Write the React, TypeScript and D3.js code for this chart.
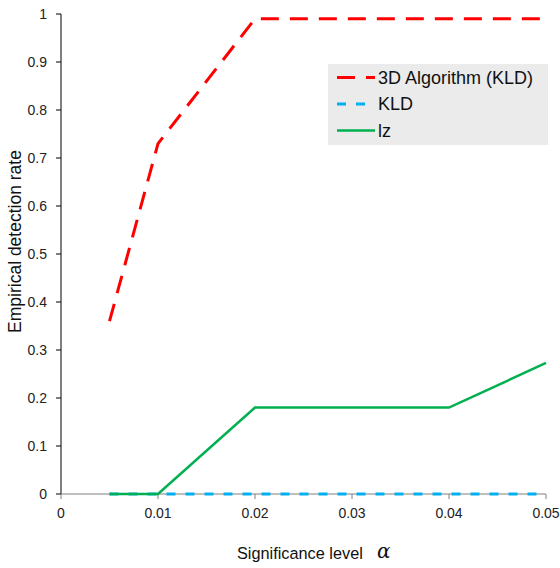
import React from "react";
import * as d3 from "d3";

const alphaLevels = [0.005, 0.01, 0.02, 0.03, 0.04, 0.05];
const algo3D = [0.36, 0.73, 0.99, 0.99, 0.99, 0.99];
const kld = [0, 0, 0, 0, 0, 0];
const lz = [0, 0, 0.18, 0.18, 0.18, 0.273];
const xTicks = [0, 0.01, 0.02, 0.03, 0.04, 0.05];
const xTickLabels = ["0", "0.01", "0.02", "0.03", "0.04", "0.05"];
const yTicks = [0, 0.1, 0.2, 0.3, 0.4, 0.5, 0.6, 0.7, 0.8, 0.9, 1];
const yTickLabels = ["0", "0.1", "0.2", "0.3", "0.4", "0.5", "0.6", "0.7", "0.8", "0.9", "1"];
const seriesNames = ["3D Algorithm (KLD)", "KLD", "lz"];

export default function App() {
  const W = 560, H = 568;
  const x = d3.scaleLinear().domain([0, 0.05]).range([61, 546]);
  const y = d3.scaleLinear().domain([0, 1]).range([494, 14]);
  const line = d3.line<number>().x((_, i) => x(alphaLevels[i])).y((v) => y(v));
  const font = "Arial, 'Liberation Sans', sans-serif";
  const series = [
    { name: seriesNames[0], data: algo3D, color: "#ff0000", dash: "18,11", width: 3 },
    { name: seriesNames[1], data: kld, color: "#00b0f0", dash: "9,10", width: 3 },
    { name: seriesNames[2], data: lz, color: "#00b050", dash: "", width: 2.5 },
  ];
  return (
    <svg width={W} height={H} style={{ position: "absolute", left: 0, top: 0 }} fontFamily={font}>
      <rect width={W} height={H} fill="#fff" />
      {/* y axis */}
      <line x1={x(0)} x2={x(0)} y1={y(1)} y2={y(0)} stroke="#000" strokeWidth={1} />
      {yTicks.map((t, i) => (
        <g key={i}>
          <line x1={x(0) - 5} x2={x(0)} y1={y(t)} y2={y(t)} stroke="#000" />
          <text x={47} y={y(t)} dy="0.35em" textAnchor="end" fontSize={14} fill="#222">{yTickLabels[i]}</text>
        </g>
      ))}
      {/* x axis */}
      <line x1={x(0)} x2={x(0.05)} y1={y(0)} y2={y(0)} stroke="#808080" strokeWidth={1.2} />
      {xTicks.map((t, i) => (
        <g key={i}>
          <line x1={x(t)} x2={x(t)} y1={y(0)} y2={y(0) + 5} stroke="#808080" />
          <text x={x(t)} y={518} textAnchor="middle" fontSize={14} fill="#222">{xTickLabels[i]}</text>
        </g>
      ))}
      {/* series */}
      {[series[1], series[2], series[0]].map((s) => (
        <path key={s.name} d={line(s.data) || ""} fill="none" stroke={s.color} strokeWidth={s.width} strokeDasharray={s.dash} />
      ))}
      {/* legend */}
      <rect x={328} y={64} width={220} height={81} fill="#ebebeb" />
      {series.map((s, i) => {
        const ly = 77.5 + i * 26.5;
        return (
          <g key={s.name}>
            <line x1={337} x2={375} y1={ly} y2={ly} stroke={s.color} strokeWidth={s.width} strokeDasharray={s.dash} />
            <text x={378} y={ly} dy="0.36em" fontSize={18} fill="#111">{s.name}</text>
          </g>
        );
      })}
      {/* axis titles */}
      <text transform={`translate(21,241.5) rotate(-90)`} textAnchor="middle" fontSize={17.5} fill="#111">Empirical detection rate</text>
      <text x={237} y={559} fontSize={16.3} fill="#111">Significance level</text>
      <text x={377} y={558} fontFamily="'DejaVu Serif', 'Liberation Serif', serif" fontStyle="italic" fontSize={20} fill="#111">α</text>
    </svg>
  );
}
